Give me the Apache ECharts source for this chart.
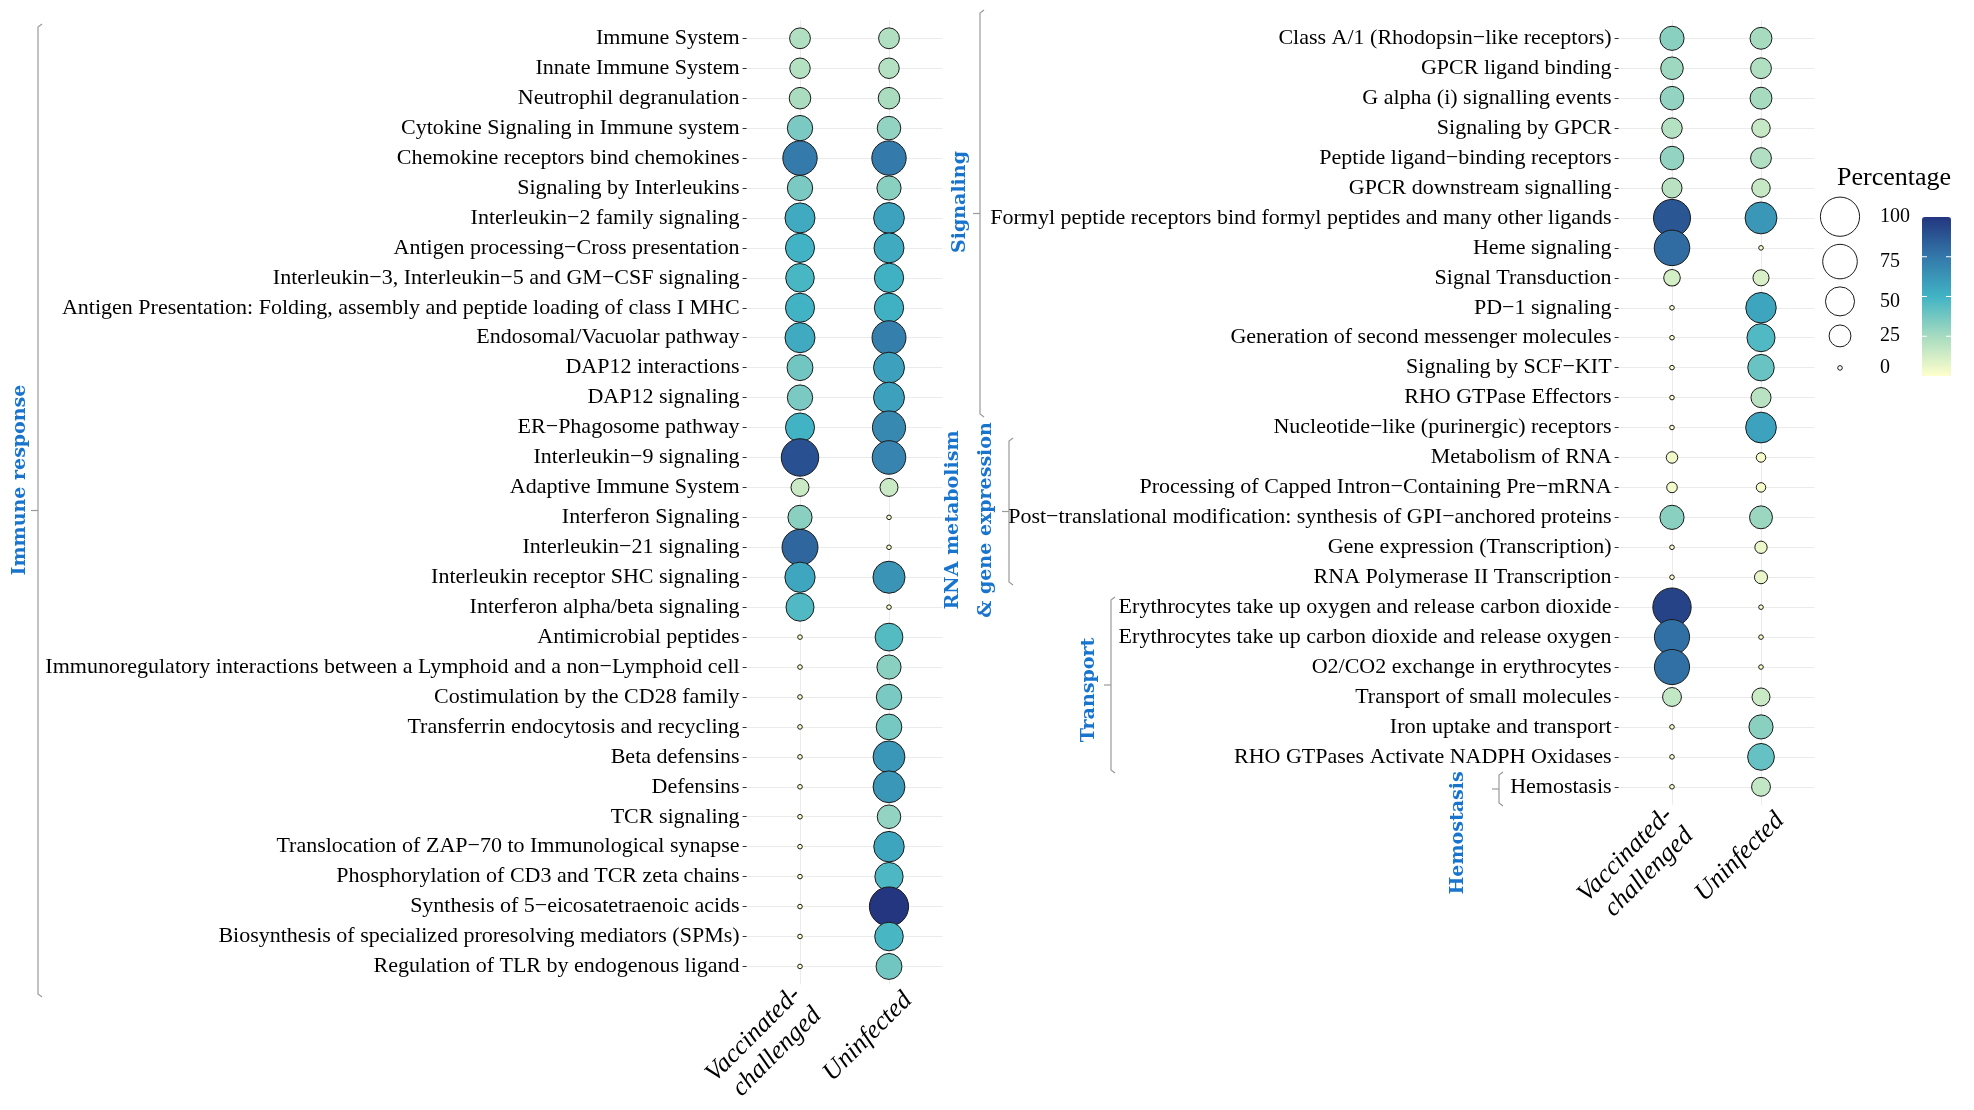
<!DOCTYPE html>
<html>
<head>
<meta charset="utf-8">
<script src="https://cdn.jsdelivr.net/npm/echarts@6/dist/echarts.min.js"></script>
<style>
html,body{margin:0;padding:0;background:#fff;}
#chart{width:1974px;height:1110px;}
</style>
</head>
<body>
<div id="chart"></div>
<script>
// ---------------- DATA ----------------
const conditions = ['Vaccinated-\nchallenged', 'Uninfected'];

const immuneCategories = [
  'Immune System','Innate Immune System','Neutrophil degranulation','Cytokine Signaling in Immune system',
  'Chemokine receptors bind chemokines','Signaling by Interleukins','Interleukin\u22122 family signaling',
  'Antigen processing\u2212Cross presentation','Interleukin\u22123, Interleukin\u22125 and GM\u2212CSF signaling',
  'Antigen Presentation: Folding, assembly and peptide loading of class I MHC','Endosomal/Vacuolar pathway',
  'DAP12 interactions','DAP12 signaling','ER\u2212Phagosome pathway','Interleukin\u22129 signaling',
  'Adaptive Immune System','Interferon Signaling','Interleukin\u221221 signaling','Interleukin receptor SHC signaling',
  'Interferon alpha/beta signaling','Antimicrobial peptides',
  'Immunoregulatory interactions between a Lymphoid and a non\u2212Lymphoid cell','Costimulation by the CD28 family',
  'Transferrin endocytosis and recycling','Beta defensins','Defensins','TCR signaling',
  'Translocation of ZAP\u221270 to Immunological synapse','Phosphorylation of CD3 and TCR zeta chains',
  'Synthesis of 5\u2212eicosatetraenoic acids','Biosynthesis of specialized proresolving mediators (SPMs)',
  'Regulation of TLR by endogenous ligand'
];
const immuneVaccinated = [22,21,24,36,74,36,54,50,48,50,54,38,36,50,90,15,32,82,55,46,0,0,0,0,0,0,0,0,0,0,0,0];
const immuneUninfected = [22,21,24,30,74,32,57,54,51,51,72,58,58,68,70,15,0,0,63,0,45,32,36,37,62,62,30,56,47,100,48,38];

const otherCategories = [
  'Class A/1 (Rhodopsin\u2212like receptors)','GPCR ligand binding','G alpha (i) signalling events','Signaling by GPCR',
  'Peptide ligand\u2212binding receptors','GPCR downstream signalling',
  'Formyl peptide receptors bind formyl peptides and many other ligands','Heme signaling','Signal Transduction',
  'PD\u22121 signaling','Generation of second messenger molecules','Signaling by SCF\u2212KIT','RHO GTPase Effectors',
  'Nucleotide\u2212like (purinergic) receptors','Metabolism of RNA','Processing of Capped Intron\u2212Containing Pre\u2212mRNA',
  'Post\u2212translational modification: synthesis of GPI\u2212anchored proteins','Gene expression (Transcription)',
  'RNA Polymerase II Transcription','Erythrocytes take up oxygen and release carbon dioxide',
  'Erythrocytes take up carbon dioxide and release oxygen','O2/CO2 exchange in erythrocytes',
  'Transport of small molecules','Iron uptake and transport','RHO GTPases Activate NADPH Oxidases','Hemostasis'
];
const otherVaccinated = [32,27,30,21,30,20,88,80,12,0,0,0,0,0,4,3,32,0,0,95,78,78,17,0,0,0];
const otherUninfected = [25,22,25,16,22,16,62,0,11,56,46,40,20,57,2,2,28,5,6,0,0,0,15,32,41,17];

const legendValues = [100, 75, 50, 25, 0];
const colorbarTicks = [25, 50, 75];
const palette = ['#ffffcc','#a6dbc0','#41b3c4','#3378aa','#23367f'];

// group annotations (text) and their layout
const groupLabels = [
  {text: 'Immune response', cx: 20, cy: 480, bx: 38, y1: 24, y2: 997},
  {text: 'Signaling', cx: 960, cy: 202, bx: 980, y1: 10, y2: 417},
  {text: 'RNA metabolism\n& gene expression', cx: 970, cy: 520, bx: 1009, y1: 438, y2: 585},
  {text: 'Transport', cx: 1089, cy: 690, bx: 1111, y1: 597, y2: 773},
  {text: 'Hemostasis', cx: 1458, cy: 833, bx: 1499, y1: 772, y2: 806}
];

// ---------------- SCALES ----------------
const R_MIN = 2.3, R_MAX = 19.6;
function radius(v) { return R_MIN + (R_MAX - R_MIN) * Math.sqrt(Math.max(v, 0) / 100); }

function buildPoints(vacc, uninf) {
  const pts = [];
  vacc.forEach((v, i) => pts.push([1, i, v]));
  uninf.forEach((v, i) => pts.push([2, i, v]));
  return pts;
}

const FONT = "'Liberation Serif', 'Times New Roman', serif";
const GROUP_FONT = "'DejaVu Serif', serif";
const GRID_COLOR = '#ebebeb';

function xAxisFor(gridIndex) {
  return {
    type: 'value', gridIndex, min: 0.4, max: 2.6,
    axisLine: {show: false},
    axisTick: {show: true, customValues: [1, 2], length: 4, lineStyle: {color: '#333'}},
    axisLabel: {show: false, customValues: [1, 2]},
    splitLine: {show: true, lineStyle: {color: GRID_COLOR, width: 1}}
  };
}
function yAxisFor(gridIndex, cats) {
  const idx = cats.map((c, i) => i);
  return {
    type: 'value', gridIndex, inverse: true, min: -0.6, max: cats.length - 1 + 0.6,
    axisLine: {show: false},
    axisTick: {show: true, customValues: idx, length: 4, lineStyle: {color: '#333'}},
    axisLabel: {
      customValues: idx, margin: 7,
      formatter: v => cats[Math.round(v)] || '',
      fontFamily: FONT, fontSize: 22, color: '#000'
    },
    splitLine: {show: true, lineStyle: {color: GRID_COLOR, width: 1}}
  };
}

const ROW = 29.94;
const COLW = 89;

function seriesFor(xi, yi, pts) {
  return {
    type: 'scatter', xAxisIndex: xi, yAxisIndex: yi, data: pts,
    symbol: 'circle',
    symbolSize: d => 2 * radius(d[2]),
    itemStyle: {borderColor: '#1a1a1a', borderWidth: 1, opacity: 1},
    emphasis: {disabled: true},
    z: 3
  };
}

// ---------------- GRAPHICS (annotations, legend keys) ----------------
const graphics = [];
groupLabels.forEach(g => {
  const mid = (g.y1 + g.y2) / 2;
  graphics.push({
    type: 'polyline', silent: true,
    shape: {points: [[g.bx + 4, g.y1], [g.bx, g.y1 + 3], [g.bx, g.y2 - 3], [g.bx + 4, g.y2]]},
    style: {stroke: '#9a9a9a', lineWidth: 1.2, fill: null}
  });
  graphics.push({
    type: 'line', silent: true,
    shape: {x1: g.bx - 7, y1: mid, x2: g.bx, y2: mid},
    style: {stroke: '#9a9a9a', lineWidth: 1.2}
  });
  graphics.push({
    type: 'text', silent: true, x: g.cx, y: g.cy, rotation: Math.PI / 2,
    style: {
      text: g.text, align: 'center', verticalAlign: 'middle',
      font: 'bold 19px ' + GROUP_FONT, fill: '#1874cd', lineHeight: 33
    }
  });
});

// legend title
graphics.push({
  type: 'text', silent: true, x: 1837, y: 178,
  style: {text: 'Percentage', font: '26px ' + FONT, fill: '#000', verticalAlign: 'middle', align: 'left'}
});
// size legend keys
(function () {
  const keyH = v => Math.max(2 * radius(v) + 8, 32);
  let y = 216.7;
  legendValues.forEach((v, i) => {
    if (i > 0) y += (keyH(legendValues[i - 1]) + keyH(v)) / 2;
    graphics.push({
      type: 'circle', silent: true,
      shape: {cx: 1840, cy: y, r: radius(v)},
      style: {fill: '#fff', stroke: '#1a1a1a', lineWidth: 1}
    });
    graphics.push({
      type: 'text', silent: true, x: 1880, y: y,
      style: {text: String(v), font: '20px ' + FONT, fill: '#000', verticalAlign: 'middle', align: 'left'}
    });
  });
})();
// colorbar ticks
const CB_TOP = 217, CB_H = 159, CB_LEFT = 1922, CB_W = 29;
colorbarTicks.forEach(v => {
  const y = CB_TOP + CB_H * (1 - v / 100);
  graphics.push({type: 'line', silent: true, z: 100, shape: {x1: CB_LEFT, y1: y, x2: CB_LEFT + 5, y2: y}, style: {stroke: '#fff', lineWidth: 1}});
  graphics.push({type: 'line', silent: true, z: 100, shape: {x1: CB_LEFT + CB_W - 5, y1: y, x2: CB_LEFT + CB_W, y2: y}, style: {stroke: '#fff', lineWidth: 1}});
});

// ---------------- CHART ----------------
const chart = echarts.init(document.getElementById('chart'), null, {renderer: 'canvas'});
const option = {
  backgroundColor: '#fff',
  animation: false,
  grid: [
    {left: 800 - 0.6 * COLW, top: 38.3 - 0.6 * ROW, width: 2.2 * COLW, height: (immuneCategories.length - 1 + 1.2) * ROW, outerBoundsMode: 'none', containLabel: false},
    {left: 1672 - 0.6 * COLW, top: 38.3 - 0.6 * ROW, width: 2.2 * COLW, height: (otherCategories.length - 1 + 1.2) * ROW, outerBoundsMode: 'none', containLabel: false}
  ],
  xAxis: [xAxisFor(0), xAxisFor(1)],
  yAxis: [yAxisFor(0, immuneCategories), yAxisFor(1, otherCategories)],
  visualMap: {
    type: 'continuous', min: 0, max: 100, dimension: 2, seriesIndex: [0, 1],
    calculable: false, hoverLink: false, realtime: false,
    left: CB_LEFT, top: CB_TOP, itemWidth: CB_W, itemHeight: CB_H, padding: 0,
    text: null, showLabel: false,
    inRange: {color: palette},
    textStyle: {color: 'transparent'}
  },
  series: [
    seriesFor(0, 0, buildPoints(immuneVaccinated, immuneUninfected)),
    seriesFor(1, 1, buildPoints(otherVaccinated, otherUninfected))
  ],
  graphic: graphics
};
chart.setOption(option);

// x-axis condition labels (rotated 45°), placed from the axes' own pixel mapping
const xLabelOffsets = [{dx: 7, dy: 17}, {dx: 19, dy: 12}];
const xLabelGraphics = [];
[[0, immuneCategories], [1, otherCategories]].forEach(([gi, cats]) => {
  const bottom = chart.convertToPixel({yAxisIndex: gi}, cats.length - 1 + 0.6);
  conditions.forEach((c, k) => {
    const px = chart.convertToPixel({xAxisIndex: gi}, k + 1);
    xLabelGraphics.push({
      type: 'text', silent: true,
      x: px + xLabelOffsets[k].dx, y: bottom + xLabelOffsets[k].dy, rotation: Math.PI / 4,
      style: {
        text: c, align: 'right', verticalAlign: 'middle',
        font: 'italic 26px ' + FONT, fill: '#000', lineHeight: 29
      }
    });
  });
});
chart.setOption({graphic: graphics.concat(xLabelGraphics)});
</script>
</body>
</html>
